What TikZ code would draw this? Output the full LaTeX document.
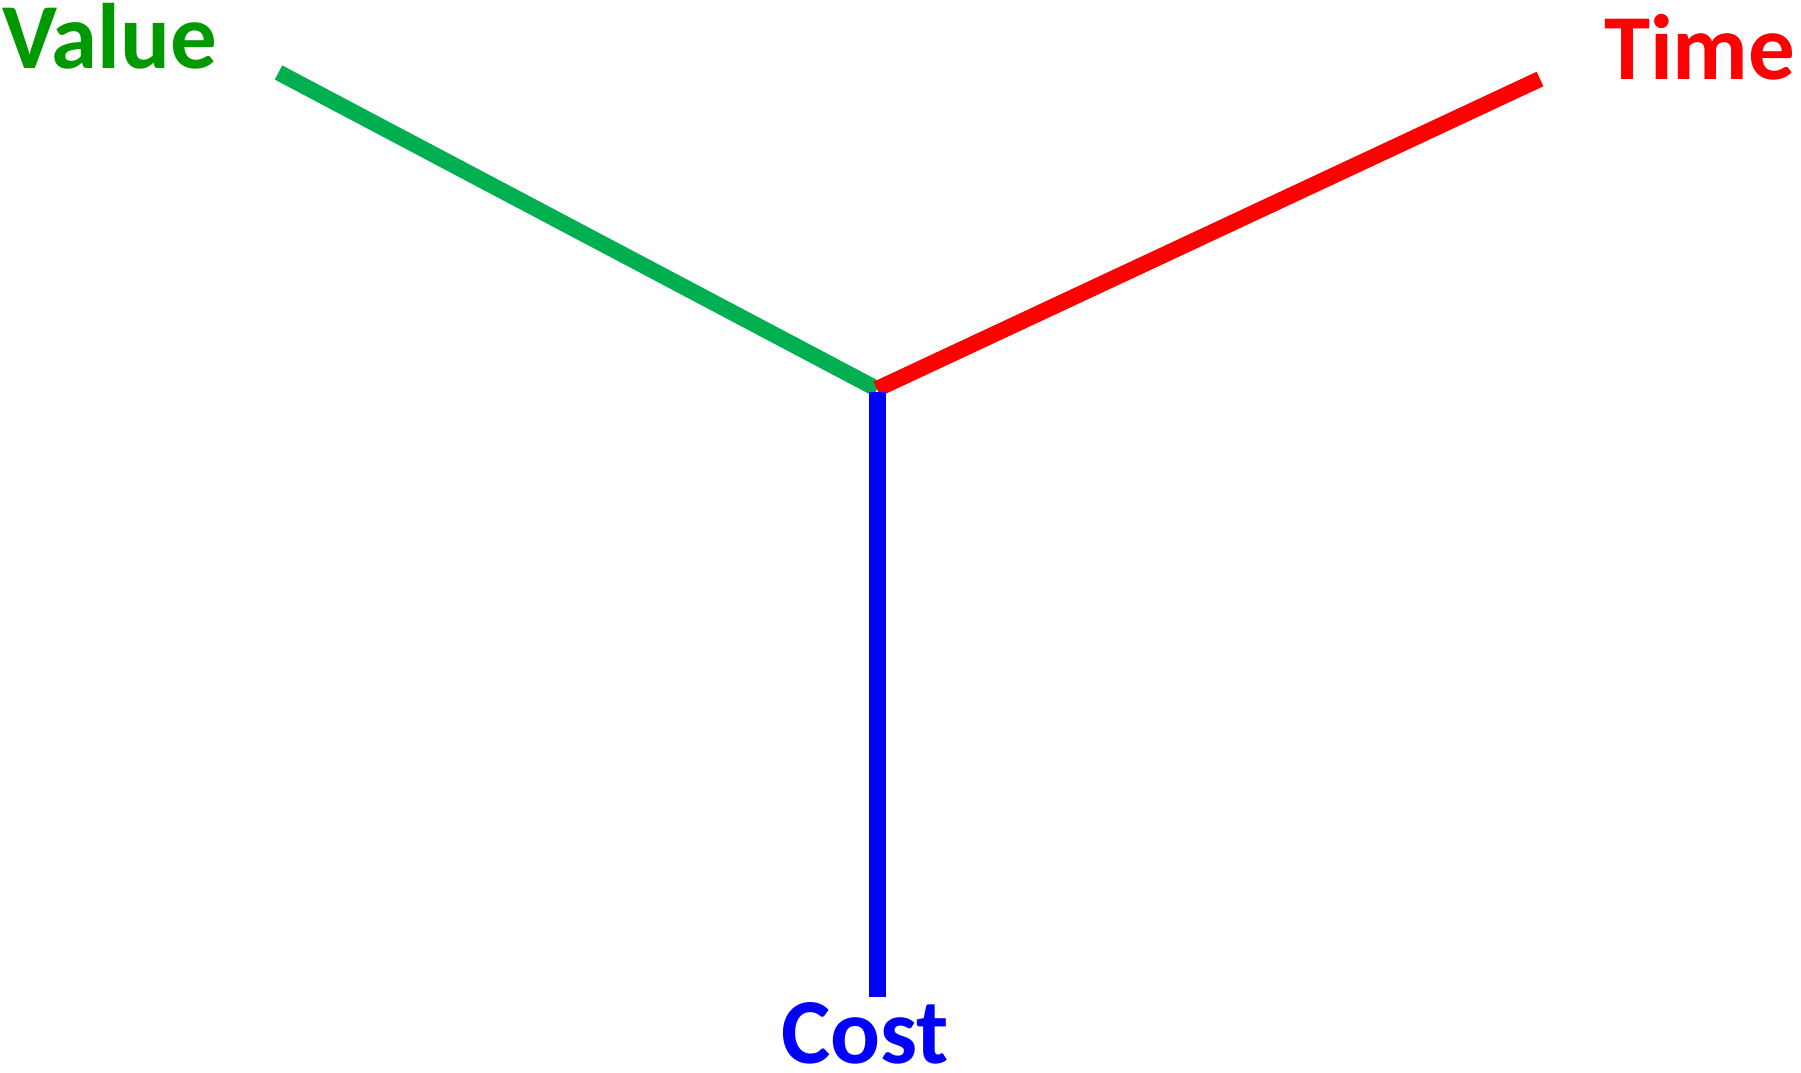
\documentclass[tikz,border=0pt]{standalone}
\usepackage{fontspec}
\setmainfont{Carlito}
\definecolor{valgreen}{RGB}{0,153,0}
\definecolor{linegreen}{RGB}{0,176,80}
\begin{document}
\begin{tikzpicture}[x=1pt,y=-1pt,
  lbl/.style={inner sep=0pt, outer sep=0pt, anchor=base west, font=\fontsize{93}{112}\selectfont\bfseries},
  axis/.style={line width=16pt, line cap=butt}]
\useasboundingbox (0,0) rectangle (1801,1072);
\fill[white] (0,0) rectangle (1801,1072);
% labels
\node[lbl, text=valgreen] (value) at (2,68) {Value};
\node[lbl, text=red] (time) at (1604,79) {Time};
\node[lbl, text=blue] (cost) at (781,1063) {Cost};
% line endpoints
\coordinate (vEnd) at (278.5,72.5);
\coordinate (tEnd) at (1540,79);
\coordinate (hub) at (877,389);
\coordinate (cTop) at (877,392);
\coordinate (cEnd) at (877,997);
% axes
\draw[axis, draw=linegreen] (vEnd) -- (hub);
\draw[axis, draw=red] (hub) -- (tEnd);
\draw[axis, draw=blue, line width=17pt] (cTop) -- (cEnd);
\end{tikzpicture}
\end{document}
